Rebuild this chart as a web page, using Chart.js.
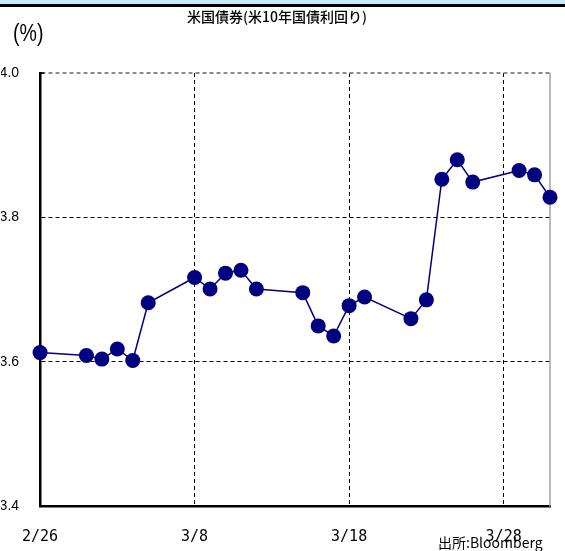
<!DOCTYPE html>
<html>
<head>
<meta charset="utf-8">
<script src="https://cdn.jsdelivr.net/npm/chart.js@4/dist/chart.umd.min.js"></script>
<style>
  html, body { margin: 0; padding: 0; background: #fff; }
  #wrap { width: 565px; height: 551px; position: relative; }
</style>
</head>
<body>
<div id="wrap"><canvas id="c" width="565" height="551"></canvas></div>
<script>
// US 10-year Treasury yield (%), trading days counted from 2/26
const dayOffsets = [0, 3, 4, 5, 6, 7, 10, 11, 12, 13, 14, 17, 18, 19, 20, 21, 24, 25, 26, 27, 28, 31, 32, 33];
const yields = [3.613, 3.609, 3.604, 3.618, 3.602, 3.682, 3.717, 3.701, 3.723, 3.727, 3.701,
                3.696, 3.650, 3.636, 3.678, 3.690, 3.660, 3.686, 3.853, 3.880, 3.849,
                3.865, 3.859, 3.828];
const xTickDays = [0, 10, 20, 30];
const xTickLabels = ['2/26', '3/8', '3/18', '3/28'];
const yTicks = [3.4, 3.6, 3.8, 4.0];
const titleText = '米国債券(米10年国債利回り)';
const unitText = '(%)';
const sourceText = '出所:Bloomberg';

const points = dayOffsets.map((d, i) => ({ x: d, y: yields[i] }));

const decorations = {
  id: 'decorations',
  beforeDraw(chart) {
    const ctx = chart.ctx;
    ctx.save();
    ctx.fillStyle = '#ffffff';
    ctx.fillRect(0, 0, chart.width, chart.height);
    ctx.fillStyle = '#c9ecfb';
    ctx.fillRect(0, 0, chart.width, 4);
    ctx.fillStyle = '#000000';
    ctx.fillRect(0, 4, chart.width, 3);
    ctx.restore();
  },
  beforeDatasetsDraw(chart) {
    const ctx = chart.ctx;
    const a = chart.chartArea;
    ctx.save();
    // right frame edge
    ctx.strokeStyle = '#a0a0a0';
    ctx.lineWidth = 1.5;
    ctx.beginPath();
    ctx.moveTo(a.right, a.top);
    ctx.lineTo(a.right, a.bottom);
    ctx.stroke();
    ctx.restore();
  },
  afterDatasetsDraw(chart) {
    const ctx = chart.ctx;
    const a = chart.chartArea;
    ctx.save();
    ctx.fillStyle = '#000';
    ctx.textBaseline = 'middle';
    ctx.textAlign = 'center';
    ctx.font = '500 14px "Noto Sans CJK JP"';
    ctx.fillText(titleText, 277, 17);
    ctx.textAlign = 'left';
    ctx.save();
    ctx.translate(13, 35);
    ctx.scale(0.85, 1);
    ctx.font = '23px "Liberation Sans"';
    ctx.fillText(unitText, 0, 0);
    ctx.restore();
    ctx.textBaseline = 'top';
    ctx.font = '14px "Noto Sans CJK JP"';
    ctx.fillText(sourceText, 438, 536);
    // small corner tick at the top of the value axis
    ctx.strokeStyle = '#000';
    ctx.lineWidth = 1.5;
    ctx.beginPath();
    ctx.moveTo(a.left, a.top);
    ctx.lineTo(a.left + 4, a.top);
    ctx.stroke();
    ctx.restore();
  }
};

new Chart(document.getElementById('c'), {
  type: 'line',
  data: {
    datasets: [{
      data: points,
      borderColor: '#000080',
      backgroundColor: '#000080',
      borderWidth: 1.5,
      pointRadius: 7.5,
      pointHoverRadius: 7.5,
      pointBorderWidth: 0,
      tension: 0,
      clip: false
    }]
  },
  options: {
    responsive: false,
    animation: false,
    events: [],
    layout: { padding: { top: 73, right: 15, left: 0, bottom: 0 } },
    plugins: {
      legend: { display: false },
      tooltip: { enabled: false },
      title: { display: false }
    },
    scales: {
      x: {
        type: 'linear',
        min: 0,
        max: 33,
        afterFit(scale) { scale.height = 44.5; },
        afterBuildTicks(scale) { scale.ticks = xTickDays.map(v => ({ value: v })); },
        ticks: {
          autoSkip: false,
          maxRotation: 0,
          padding: 22,
          color: '#000',
          font: { family: '"DejaVu Sans Mono"', size: 15 },
          callback(value) {
            const i = xTickDays.indexOf(value);
            return i >= 0 ? xTickLabels[i] : '';
          }
        },
        grid: {
          drawTicks: false,
          color(ctx) { return ctx.tick && ctx.tick.value === 0 ? 'rgba(0,0,0,0)' : '#000'; },
          lineWidth: 1
        },
        border: { display: true, color: '#000', width: 2.5, dash: [4, 3] }
      },
      y: {
        type: 'linear',
        min: 3.4,
        max: 4.0,
        afterFit(scale) { scale.width = 39; },
        afterBuildTicks(scale) { scale.ticks = yTicks.map(v => ({ value: v })); },
        ticks: {
          padding: 21,
          color: '#000',
          font: { family: '"Liberation Sans"', size: 14 },
          callback(value) { return value.toFixed(1); }
        },
        grid: {
          drawTicks: false,
          color(ctx) {
            if (!ctx.tick) return '#000';
            if (ctx.tick.value === 3.4) return 'rgba(0,0,0,0)';
            if (ctx.tick.value === 4.0) return '#8a8a8a';
            return '#000';
          },
          lineWidth(ctx) { return ctx.tick && ctx.tick.value === 4.0 ? 2 : 1; }
        },
        border: { display: true, color: '#000', width: 2.5, dash: [4, 3] }
      }
    }
  },
  plugins: [decorations]
});
</script>
</body>
</html>
